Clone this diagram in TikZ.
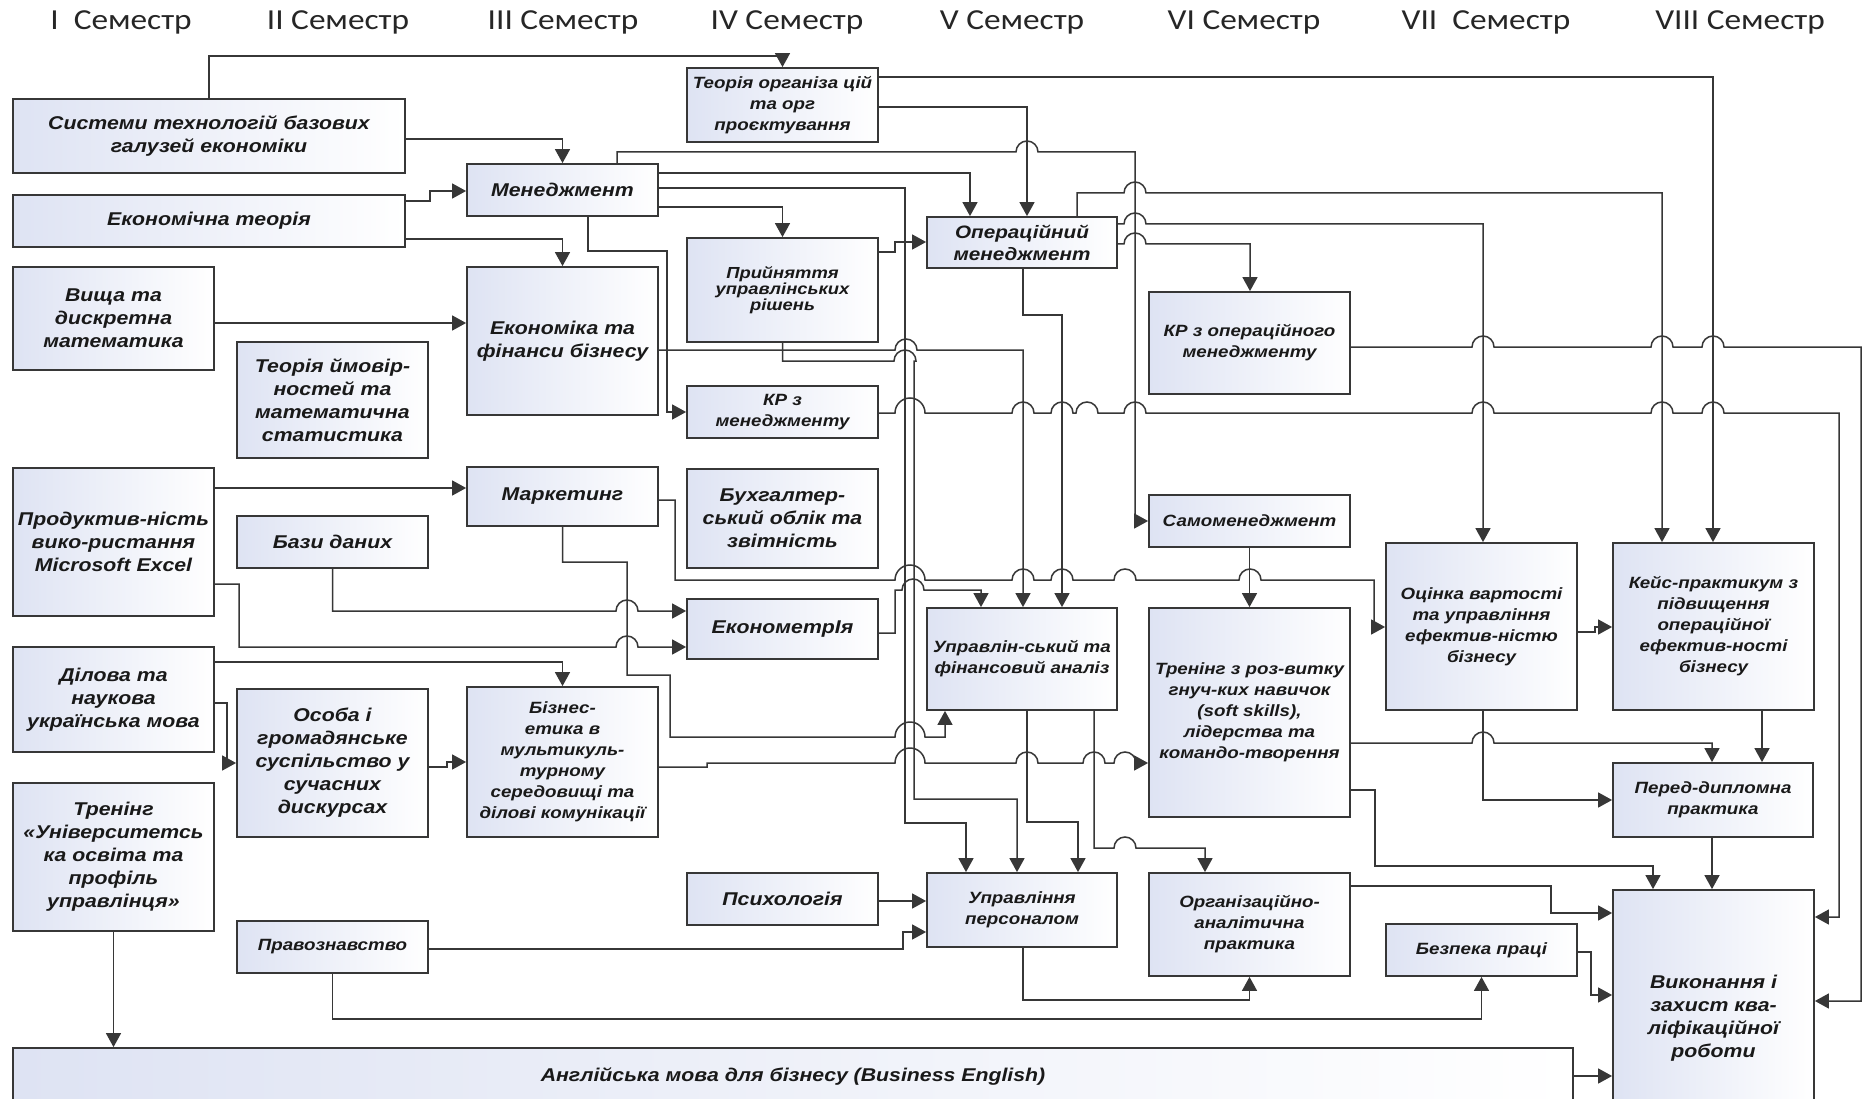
\documentclass[tikz,border=0pt]{standalone}
\usepackage{fontspec}
\setmainfont{Liberation Sans}[FakeStretch=1.15]
\newfontfamily\semfont{Carlito}[FakeStretch=1.15]
\usetikzlibrary{arrows.meta}
\definecolor{boxc}{RGB}{222,227,243}
\definecolor{lnc}{RGB}{55,55,55}
\newcommand\hp[2]{-- ({#1-11},#2) arc[start angle=180,end angle=0,radius=11pt]}
\newcommand\hpw[2]{-- ({#1-15},#2) arc[start angle=180,end angle=0,radius=15pt]}
\tikzset{
  box/.style={draw=lnc, line width=1.8pt, left color=boxc, right color=white, inner sep=0pt, align=center, text=black!90},
  conn/.style={draw=lnc, line width=1.5pt},
  arr/.style={-{Triangle[length=14pt,width=15pt]}},
  fL/.style={font=\fontsize{18.5}{23}\selectfont\bfseries\itshape},
  fM/.style={font=\fontsize{18}{22}\selectfont\bfseries\itshape},
  fS/.style={font=\fontsize{16.3}{21}\selectfont\bfseries\itshape},
  fT/.style={font=\fontsize{16}{16}\selectfont\bfseries\itshape},
  sem/.style={font=\semfont\fontsize{29}{31}\selectfont, text=black!85, anchor=base, inner sep=0pt}
}
\begin{document}
\begin{tikzpicture}[x=1pt,y=-1pt]
\useasboundingbox (0,0) rectangle (1863,1099);
\fill[white] (0,0) rectangle (1863,1099);
% semester headers
\node[sem] (s1) at (121,30) {I~~Семестр};
\node[sem] (s2) at (338,30) {II Семестр};
\node[sem] (s3) at (563,30) {III Семестр};
\node[sem] (s4) at (787,30) {IV Семестр};
\node[sem] (s5) at (1012,30) {V Семестр};
\node[sem] (s6) at (1244,30) {VI Семестр};
\node[sem] (s7) at (1486,30) {VII~~Семестр};
\node[sem] (s8) at (1740,30) {VIII Семестр};
% column 1
\node[box,fL,minimum width=392pt,minimum height=74pt] (sys) at (209,136) {Системи технологій базових\\галузей економіки};
\node[box,fL,minimum width=392pt,minimum height=52pt] (et) at (209,221) {Економічна теорія};
\node[box,fL,minimum width=201pt,minimum height=103pt] (vm) at (113.5,318.5) {Вища та\\дискретна\\математика};
\node[box,fL,minimum width=201pt,minimum height=148pt] (excel) at (113.5,542) {Продуктив-ність\\вико-ристання\\Microsoft Excel};
\node[box,fL,minimum width=201pt,minimum height=105pt] (dil) at (113.5,699.5) {Ділова та\\наукова\\українська мова};
\node[box,fL,minimum width=201pt,minimum height=148pt] (tru) at (113.5,857) {Тренінг\\«Університетсь\\ка освіта та\\профіль\\управлінця»};
\node[box,fL,minimum width=1560pt,minimum height=56pt] (eng) at (793,1076) {Англійська мова для бізнесу (Business English)};
% column 2
\node[box,fL,minimum width=191pt,minimum height=116pt] (tim) at (332.5,400) {Теорія ймовір-\\ностей та\\математична\\статистика};
\node[box,fL,minimum width=191pt,minimum height=52pt] (bd) at (332.5,542) {Бази даних};
\node[box,fL,minimum width=191pt,minimum height=148pt] (os) at (332.5,763) {Особа і\\громадянське\\суспільство у\\сучасних\\дискурсах};
\node[box,fS,minimum width=191pt,minimum height=52pt] (pr) at (332.5,947) {Правознавство};
% column 3
\node[box,fL,minimum width=191pt,minimum height=52pt] (men) at (562.5,190) {Менеджмент};
\node[box,fL,minimum width=191pt,minimum height=148pt] (ek) at (562.5,341) {Економіка та\\фінанси бізнесу};
\node[box,fL,minimum width=191pt,minimum height=59pt] (mar) at (562.5,496.5) {Маркетинг};
\node[box,fS,minimum width=191pt,minimum height=150pt] (be) at (562.5,762) {Бізнес-\\етика в\\мультикуль-\\турному\\середовищі та\\ділові комунікації};
% column 4
\node[box,fS,minimum width=191pt,minimum height=74pt] (to) at (782.5,105) {Теорія організа цій\\та орг\\проєктування};
\node[box,fT,minimum width=191pt,minimum height=104pt] (pur) at (782.5,290) {Прийняття\\управлінських\\рішень};
\node[box,fS,minimum width=191pt,minimum height=52pt] (krm) at (782.5,412) {КР з\\менеджменту};
\node[box,fL,minimum width=191pt,minimum height=99pt] (bo) at (782.5,518.5) {Бухгалтер-\\ський облік та\\звітність};
\node[box,fL,minimum width=191pt,minimum height=60pt] (ekm) at (782.5,629) {ЕконометрІя};
\node[box,fL,minimum width=191pt,minimum height=52pt] (ps) at (782.5,899) {Психологія};
% column 5
\node[box,fM,minimum width=190pt,minimum height=51pt] (om) at (1022,242.5) {Операційний\\менеджмент};
\node[box,fS,minimum width=190pt,minimum height=102pt] (ufa) at (1022,659) {Управлін-ський та\\фінансовий аналіз};
\node[box,fS,minimum width=190pt,minimum height=74pt] (up) at (1022,910) {Управління\\персоналом};
% column 6
\node[box,fS,minimum width=201pt,minimum height=102pt] (krom) at (1249.5,343) {КР з операційного\\менеджменту};
\node[box,fS,minimum width=201pt,minimum height=52pt] (sm) at (1249.5,521) {Самоменеджмент};
\node[box,fS,minimum width=201pt,minimum height=209pt] (tss) at (1249.5,712.5) {Тренінг з роз-витку\\гнуч-ких навичок\\(soft skills),\\лідерства та\\командо-творення};
\node[box,fS,minimum width=201pt,minimum height=103pt] (oap) at (1249.5,924.5) {Організаційно-\\аналітична\\практика};
% column 7
\node[box,fS,minimum width=191pt,minimum height=167pt] (ov) at (1481.5,626.5) {Оцінка вартості\\та управління\\ефектив-ністю\\бізнесу};
\node[box,fS,minimum width=191pt,minimum height=52pt] (bp) at (1481.5,950) {Безпека праці};
% column 8
\node[box,fS,minimum width=201pt,minimum height=167pt] (kp) at (1713.5,626.5) {Кейс-практикум з\\підвищення\\операційної\\ефектив-ності\\бізнесу};
\node[box,fS,minimum width=200pt,minimum height=74pt] (pdp) at (1713,800) {Перед-дипломна\\практика};
\node[box,fL,minimum width=201pt,minimum height=256pt] (vyk) at (1713.5,1018) {Виконання і\\захист ква-\\ліфікаційної\\роботи};
% connectors
\draw[conn,arr] (sys.north) -- (209,56) -| (to.north);
\draw[conn,arr] (sys.east |- 0,139) -| (men.north);
\draw[conn,arr] (et.east |- 0,201) -- (430,201) -- (430,191) -- (men.west |- 0,191);
\draw[conn,arr] (et.east |- 0,239) -| (ek.north);
\draw[conn,arr] (vm.east |- 0,323) -- (ek.west |- 0,323);
\draw[conn,arr] (men.north -| 617,0) -- (617,152) \hp{1027}{152} -- (1135,152) -- (1135,521) -- (sm.west |- 0,521);
\draw[conn,arr] (men.east |- 0,173) -- (970,173) -- (om.north -| 970,0);
\draw[conn,arr] (to.east |- 0,107) -- (1027,107) -- (om.north -| 1027,0);
\draw[conn,arr] (to.east |- 0,77) -- (1713,77) -- (kp.north -| 1713,0);
\draw[conn,arr] (men.east |- 0,188) -- (905,188) -- (905,823) -- (966,823) -- (up.north -| 966,0);
\draw[conn,arr] (pur.south) -- (782.5,361) \hp{905}{361} -- (914,361) -- (914,799) -- (1017,799) -- (up.north -| 1017,0);
\draw[conn,arr] (ek.east |- 0,350) \hp{906}{350} -- (1023,350) -- (ufa.north -| 1023,0);
\draw[conn,arr] (om.south -| 1023,0) -- (1023,315) -- (1062,315) -- (ufa.north -| 1062,0);
\draw[conn,arr] (ufa.south -| 1027,0) -- (1027,822) -- (1078,822) -- (up.north -| 1078,0);
\draw[conn,arr] (ufa.south -| 1094,0) -- (1094,848) \hp{1125}{848} -- (1205,848) -- (oap.north -| 1205,0);
\draw[conn,arr] (be.east |- 0,767) -- (707,767) -- (707,763) \hpw{910}{763} \hp{1027}{763} \hp{1094}{763} \hp{1125}{763} -- (tss.west |- 0,763);
\draw[conn,arr] (mar.south) -- (562.5,562) -- (627,562) -- (627,675) -- (670,675) -- (670,737) \hpw{910}{737} -- (945,737) -- (ufa.south -| 945,0);
\draw[conn,arr] (mar.east |- 0,500) -- (675,500) -- (675,580) \hpw{910}{580} \hp{1023}{580} \hp{1062}{580} \hp{1125}{580} \hp{1250}{580} -- (1374,580) -- (1374,627) -- (ov.west |- 0,627);
\draw[conn,arr] (ekm.east |- 0,633) -- (895,633) -- (895,590) \hp{913}{590} -- (981,590) -- (ufa.north -| 981,0);
\draw[conn,arr] (krm.east |- 0,413) \hpw{910}{413} \hp{1023}{413} \hp{1062}{413} \hp{1087}{413} \hp{1135}{413} \hp{1483}{413} \hp{1662}{413} \hp{1713}{413} -- (1839,413) -- (1839,917) -- (vyk.east |- 0,917);
\draw[conn,arr] (krom.east |- 0,347) \hp{1483}{347} \hp{1662}{347} \hp{1713}{347} -- (1861,347) -- (1861,1001) -- (vyk.east |- 0,1001);
\draw[conn,arr] (om.north -| 1077,0) -- (1077,193) \hp{1135}{193} -- (1662,193) -- (kp.north -| 1662,0);
\draw[conn,arr] (om.east |- 0,224) \hp{1135}{224} -- (1483,224) -- (ov.north -| 1483,0);
\draw[conn,arr] (om.east |- 0,244) \hp{1135}{244} -- (1250,244) -- (krom.north -| 1250,0);
\draw[conn,arr] (pur.east |- 0,252) -- (895,252) -- (895,242) -- (om.west |- 0,242);
\draw[conn,arr] (men.east |- 0,207) -| (pur.north);
\draw[conn,arr] (men.south -| 588,0) -- (588,251) -- (667,251) -- (667,412) -- (krm.west |- 0,412);
\draw[conn,arr] (excel.east |- 0,488) -- (mar.west |- 0,488);
\draw[conn,arr] (excel.east |- 0,584) -- (239,584) -- (239,647) \hp{627}{647} -- (ekm.west |- 0,647);
\draw[conn,arr] (bd.south) -- (332.5,611) \hp{627}{611} -- (ekm.west |- 0,611);
\draw[conn,arr] (dil.east |- 0,662) -| (be.north);
\draw[conn,arr] (dil.east |- 0,703) -- (227,703) -- (227,763) -- (os.west |- 0,763);
\draw[conn,arr] (os.east |- 0,767) -- (447,767) -- (447,762) -- (be.west |- 0,762);
\draw[conn,arr] (tru.south) -- (tru.south |- eng.north);
\draw[conn,arr] (pr.east |- 0,949) -- (903,949) -- (903,932) -- (up.west |- 0,932);
\draw[conn,arr] (pr.south) -- (332.5,1019) -| (bp.south);
\draw[conn,arr] (ps.east |- 0,901) -- (up.west |- 0,901);
\draw[conn,arr] (up.south -| 1023,0) -- (1023,1000) -| (oap.south);
\draw[conn,arr] (tss.east |- 0,790) -- (1375,790) -- (1375,866) -- (1653,866) -- (vyk.north -| 1653,0);
\draw[conn,arr] (oap.east |- 0,886) -- (1551,886) -- (1551,913) -- (vyk.west |- 0,913);
\draw[conn,arr] (bp.east |- 0,952) -- (1591,952) -- (1591,995) -- (vyk.west |- 0,995);
\draw[conn,arr] (eng.east |- 0,1076) -- (vyk.west |- 0,1076);
\draw[conn,arr] (ov.south -| 1483,0) -- (1483,800) -- (pdp.west |- 0,800);
\draw[conn,arr] (ov.east |- 0,632) -- (1595,632) -- (1595,627) -- (kp.west |- 0,627);
\draw[conn,arr] (kp.south -| 1762,0) -- (pdp.north -| 1762,0);
\draw[conn,arr] (pdp.south -| 1712,0) -- (vyk.north -| 1712,0);
\draw[conn,arr] (tss.east |- 0,743) \hp{1483}{743} -- (1712,743) -- (pdp.north -| 1712,0);
\draw[conn,arr] (sm.south) -- (tss.north);
\end{tikzpicture}
\end{document}
